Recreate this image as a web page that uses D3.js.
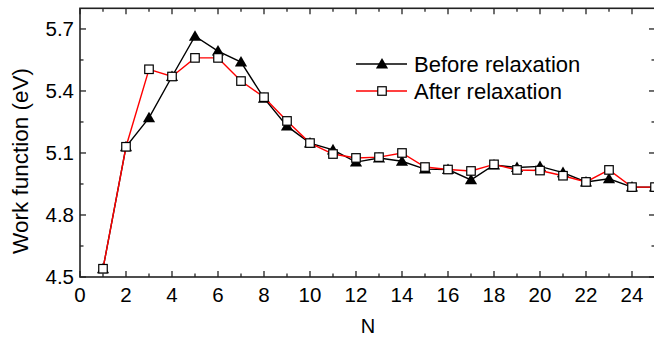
<!DOCTYPE html>
<html>
<head>
<meta charset="utf-8">
<script src="https://cdn.jsdelivr.net/npm/d3@7"></script>
<style>
  body { margin: 0; background: #fff; }
  svg text { font-family: "Liberation Sans", Arial, sans-serif; fill: #000; }
</style>
</head>
<body>
<div id="chart"></div>
<script>
const N = d3.range(1, 26);
const before = [4.54, 5.13, 5.27, 5.47, 5.665, 5.593, 5.54, 5.365, 5.23, 5.148,
  5.115, 5.056, 5.076, 5.06, 5.022, 5.02, 4.97, 5.042, 5.03, 5.035,
  5.005, 4.96, 4.975, 4.935, 4.935];
const after = [4.54, 5.13, 5.505, 5.47, 5.56, 5.56, 5.448, 5.37, 5.255, 5.148,
  5.095, 5.076, 5.08, 5.1, 5.032, 5.02, 5.013, 5.045, 5.018, 5.015,
  4.99, 4.96, 5.018, 4.935, 4.935];
const xTicks = [0, 2, 4, 6, 8, 10, 12, 14, 16, 18, 20, 22, 24];
const yTicks = [4.5, 4.8, 5.1, 5.4, 5.7];
const legendLabels = ["Before relaxation", "After relaxation"];

const width = 654, height = 337;
const svg = d3.select("#chart").append("svg")
  .attr("width", width).attr("height", height);

const x = d3.scaleLinear().domain([0, 25]).range([80, 655]);
const y = d3.scaleLinear().domain([4.5, 5.8]).range([277, 8.3]);

// frame
const axisColor = "#222";
svg.append("rect")
  .attr("x", x(0)).attr("y", y(5.8))
  .attr("width", x(25) - x(0)).attr("height", y(4.5) - y(5.8))
  .attr("fill", "none").attr("stroke", axisColor).attr("stroke-width", 1.6);

// ticks (inward, mirrored on all sides)
const xMinor = d3.range(1, 25, 2);
const yMinor = d3.range(4.65, 5.8, 0.3);
const ticks = svg.append("g").attr("stroke", axisColor).attr("stroke-width", 1.3);
const tickLines = (vals, len, horiz) => {
  vals.forEach(v => {
    if (horiz) {
      ticks.append("line").attr("x1", x(v)).attr("x2", x(v)).attr("y1", y(4.5)).attr("y2", y(4.5) - len);
      ticks.append("line").attr("x1", x(v)).attr("x2", x(v)).attr("y1", y(5.8)).attr("y2", y(5.8) + len);
    } else {
      ticks.append("line").attr("y1", y(v)).attr("y2", y(v)).attr("x1", x(0)).attr("x2", x(0) + len);
      ticks.append("line").attr("y1", y(v)).attr("y2", y(v)).attr("x1", x(25)).attr("x2", x(25) - len);
    }
  });
};
tickLines(xTicks, 6, true);
tickLines(xMinor, 3.5, true);
tickLines(yTicks, 6, false);
tickLines(yMinor, 3.5, false);

svg.append("g").selectAll("text").data(xTicks).join("text")
  .attr("x", d => x(d)).attr("y", 302)
  .attr("text-anchor", "middle").attr("font-size", 20.5)
  .text(d => d);

svg.append("g").selectAll("text").data(yTicks).join("text")
  .attr("x", 74).attr("y", d => y(d)).attr("dy", "0.35em")
  .attr("text-anchor", "end").attr("font-size", 20.5)
  .text(d => d.toFixed(1));

svg.append("text")
  .attr("x", 368).attr("y", 333)
  .attr("text-anchor", "middle").attr("font-size", 20)
  .text("N");

svg.append("text")
  .attr("transform", "translate(28,161) rotate(-90)")
  .attr("text-anchor", "middle").attr("font-size", 22.5)
  .text("Work function (eV)");

// series
const plot = svg.append("g");
const line = d3.line().x(d => x(d[0])).y(d => y(d[1]));
const beforePts = N.map((n, i) => [n, before[i]]);
const afterPts = N.map((n, i) => [n, after[i]]);

const tri = d3.symbol().type(d3.symbolTriangle).size(64);
const sq = 8.5;

plot.append("path").datum(beforePts).attr("d", line)
  .attr("fill", "none").attr("stroke", "#000").attr("stroke-width", 1.4);
plot.append("g").selectAll("path").data(beforePts).join("path")
  .attr("d", tri).attr("transform", d => `translate(${x(d[0])},${y(d[1]) + 1})`)
  .attr("fill", "#000");

plot.append("path").datum(afterPts).attr("d", line)
  .attr("fill", "none").attr("stroke", "#f00").attr("stroke-width", 1.4);
plot.append("g").selectAll("rect").data(afterPts).join("rect")
  .attr("x", d => x(d[0]) - sq / 2).attr("y", d => y(d[1]) - sq / 2)
  .attr("width", sq).attr("height", sq)
  .attr("fill", "#fff").attr("stroke", "#000").attr("stroke-width", 1.2);

// legend
const legend = svg.append("g");
const legY = [64, 91];
legend.append("line").attr("x1", 356).attr("x2", 407).attr("y1", legY[0]).attr("y2", legY[0])
  .attr("stroke", "#000").attr("stroke-width", 1.4);
legend.append("path").attr("d", tri).attr("transform", `translate(382,${legY[0] + 1})`).attr("fill", "#000");
legend.append("line").attr("x1", 356).attr("x2", 407).attr("y1", legY[1]).attr("y2", legY[1])
  .attr("stroke", "#f00").attr("stroke-width", 1.4);
legend.append("rect").attr("x", 382 - sq / 2).attr("y", legY[1] - sq / 2)
  .attr("width", sq).attr("height", sq)
  .attr("fill", "#fff").attr("stroke", "#000").attr("stroke-width", 1.2);
legend.selectAll("text").data(legendLabels).join("text")
  .attr("x", 414).attr("y", (d, i) => legY[i]).attr("dy", "0.36em")
  .attr("font-size", 22)
  .text(d => d);
</script>
</body>
</html>
